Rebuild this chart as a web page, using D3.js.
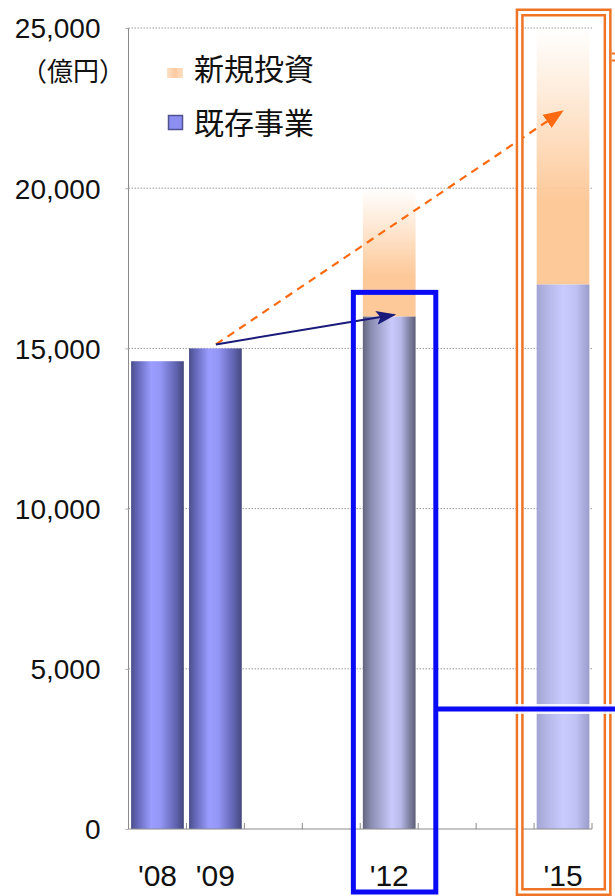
<!DOCTYPE html>
<html>
<head>
<meta charset="utf-8">
<script src="https://cdn.jsdelivr.net/npm/d3@7/dist/d3.min.js"></script>
<style>
  html, body { margin: 0; padding: 0; background: #fff; }
  svg { display: block; }
  .unit { font-feature-settings: "halt"; }
</style>
</head>
<body>
<svg id="chart" width="615" height="896"></svg>
<script>
// Fiscal years on the category axis (empty years keep the spacing)
const years = ["'08", "'09", "'10", "'11", "'12", "'13", "'14", "'15"];
const yearLabels = ["'08", "'09", "", "", "'12", "", "", "'15"];
// 既存事業 (existing business), 億円
const existing = [14600, 15000, null, null, 16000, null, null, 17000];
// 新規投資 (new investment), stacked on top of existing business
const newInvest = [null, null, null, null, 4000, null, null, 8000];
// Kind of bar: actual results vs. plan targets
const barKind = ["actual", "actual", null, null, "plan12", null, null, "plan15"];
const yTicks = [0, 5000, 10000, 15000, 20000, 25000];
const unitLabel = "（億円）";
const legendItems = ["新規投資", "既存事業"];
// Growth arrows: from '09 result to the targets
const arrowFrom = { year: "'09", value: 15000 };
const arrowExisting = { year: "'12", value: 16000 };
const arrowTotal = { year: "'15", value: 22400 };

const svg = d3.select("#chart");
const W = 615, H = 896;
const plotLeft = 128.5, plotRight = 592, plotTop = 28, plotBottom = 829;

const x = d3.scaleBand().domain(years).range([plotLeft, plotRight])
  .paddingInner(0.09).paddingOuter(0.045);
const y = d3.scaleLinear().domain([0, 25000]).range([plotBottom, plotTop]);

const defs = svg.append("defs");
function hGrad(id, stops) {
  const g = defs.append("linearGradient").attr("id", id)
    .attr("x1", "0").attr("x2", "1").attr("y1", "0").attr("y2", "0");
  stops.forEach(s => g.append("stop").attr("offset", s[0]).attr("stop-color", s[1]));
}
hGrad("g-actual", [[0, "#4c4f8a"], [0.12, "#6467b8"], [0.38, "#9b9dff"], [0.55, "#9597f6"], [0.85, "#6063b0"], [1, "#45487c"]]);
hGrad("g-plan12", [[0, "#62647e"], [0.15, "#8a8cb0"], [0.55, "#c9cafc"], [0.72, "#b8b9e8"], [0.9, "#7a7c9c"], [1, "#5e6078"]]);
hGrad("g-plan15", [[0, "#a2a4d4"], [0.2, "#b4b6e6"], [0.5, "#c9cbff"], [0.75, "#bfc1f4"], [1, "#9a9cca"]]);
const vg = defs.append("linearGradient").attr("id", "g-new")
  .attr("x1", "0").attr("x2", "0").attr("y1", "0").attr("y2", "1");
vg.append("stop").attr("offset", 0).attr("stop-color", "#fdc999").attr("stop-opacity", 0);
vg.append("stop").attr("offset", 0.25).attr("stop-color", "#fdc999").attr("stop-opacity", 0.35);
vg.append("stop").attr("offset", 0.68).attr("stop-color", "#fdc999").attr("stop-opacity", 1);
vg.append("stop").attr("offset", 1).attr("stop-color", "#fdc999").attr("stop-opacity", 1);
hGrad("g-legend-new", [[0, "#fde2c8"], [0.5, "#fcc9a0"], [1, "#fde0c4"]]);

defs.append("marker").attr("id", "m-navy")
  .attr("viewBox", "0 0 10 10").attr("refX", 9).attr("refY", 5)
  .attr("markerWidth", 20).attr("markerHeight", 14).attr("markerUnits", "userSpaceOnUse")
  .attr("orient", "auto").attr("preserveAspectRatio", "none")
  .append("path").attr("d", "M0,0 L10,5 L0,10 L2,5 Z").attr("fill", "#1a1a7a");
defs.append("marker").attr("id", "m-orange")
  .attr("viewBox", "0 0 10 10").attr("refX", 9).attr("refY", 5)
  .attr("markerWidth", 20).attr("markerHeight", 16).attr("markerUnits", "userSpaceOnUse")
  .attr("orient", "auto").attr("preserveAspectRatio", "none")
  .append("path").attr("d", "M0,0 L10,5 L0,10 Z").attr("fill", "#ff6a10");

// Dotted gridlines
svg.append("g").selectAll("line").data(yTicks.filter(d => d > 0)).join("line")
  .attr("x1", plotLeft).attr("x2", plotRight)
  .attr("y1", d => y(d)).attr("y2", d => y(d))
  .attr("stroke", "#9a9a9a").attr("stroke-width", 1).attr("stroke-dasharray", "1.5 1.5");

// Bars: existing business
const rows = years.map((yr, i) => ({ yr, ex: existing[i], nw: newInvest[i], kind: barKind[i] }));
svg.append("g").selectAll("rect").data(rows.filter(d => d.ex != null)).join("rect")
  .attr("x", d => x(d.yr)).attr("width", x.bandwidth())
  .attr("y", d => y(d.ex)).attr("height", d => y(0) - y(d.ex))
  .attr("fill", d => `url(#g-${d.kind})`);
// Bars: new investment on top
svg.append("g").selectAll("rect").data(rows.filter(d => d.nw != null)).join("rect")
  .attr("x", d => x(d.yr)).attr("width", x.bandwidth())
  .attr("y", d => y(d.ex + d.nw)).attr("height", d => y(d.ex) - y(d.ex + d.nw))
  .attr("fill", "url(#g-new)");

// Axes
const yAxis = d3.axisLeft(y).tickValues(yTicks).tickSize(3).tickFormat(d3.format(","));
const gy = svg.append("g").attr("transform", `translate(${plotLeft},0)`).call(yAxis);
gy.select(".domain").attr("stroke", "#8a8a8a").attr("d", `M0,${plotTop}V${plotBottom}`);
gy.selectAll(".tick line").attr("stroke", "#aaa");
gy.selectAll(".tick text").attr("x", -28).attr("dy", "0.35em")
  .attr("font-family", "'Liberation Sans', Arial, sans-serif").attr("font-size", 28).attr("fill", "#111");

const xAxis = d3.axisBottom(x).tickSize(0).tickFormat((d, i) => yearLabels[i]);
const gx = svg.append("g").attr("transform", `translate(0,${plotBottom})`).call(xAxis);
gx.select(".domain").attr("stroke", "#8a8a8a").attr("d", `M${plotLeft},0H${plotRight}`);
gx.selectAll(".tick text").attr("y", 57).attr("dy", 0)
  .attr("font-family", "'Liberation Sans', Arial, sans-serif").attr("font-size", 30).attr("fill", "#111");
// Category boundary ticks pointing into the plot
const bounds = years.map(d => x(d) - x.step() * x.paddingInner() / 2).slice(1).concat([plotRight]);
svg.append("g").selectAll("line").data(bounds).join("line")
  .attr("x1", d => d).attr("x2", d => d).attr("y1", plotBottom).attr("y2", plotBottom - 6)
  .attr("stroke", "#8a8a8a").attr("stroke-width", 1);

// Unit label
svg.append("text").attr("class", "unit").attr("x", 34).attr("y", 81)
  .attr("font-family", "'Noto Sans CJK JP', sans-serif").attr("font-size", 26).attr("fill", "#111")
  .text(unitLabel);

// Legend
const lg = svg.append("g").attr("font-family", "'Noto Sans CJK JP', sans-serif").attr("font-size", 30).attr("fill", "#111");
lg.append("rect").attr("x", 167).attr("y", 68).attr("width", 16).attr("height", 10).attr("fill", "url(#g-legend-new)");
lg.append("text").attr("x", 194).attr("y", 80).text(legendItems[0]);
lg.append("rect").attr("x", 168.5).attr("y", 115.5).attr("width", 14).attr("height", 14)
  .attr("fill", "#8c8ef2").attr("stroke", "#4f528f").attr("stroke-width", 1.5);
lg.append("text").attr("x", 194).attr("y", 134).text(legendItems[1]);

// Growth arrows
const cx = yr => x(yr) + x.bandwidth() / 2;
const sx = cx(arrowFrom.year) + 0.5, sy = y(arrowFrom.value) - 4;
svg.append("line")
  .attr("x1", sx).attr("y1", sy)
  .attr("x2", cx(arrowTotal.year) - 1).attr("y2", y(arrowTotal.value))
  .attr("stroke", "#ff6a10").attr("stroke-width", 2.2).attr("stroke-dasharray", "8 6")
  .attr("marker-end", "url(#m-orange)");
svg.append("line")
  .attr("x1", sx).attr("y1", sy)
  .attr("x2", cx(arrowExisting.year) + 5).attr("y2", y(arrowExisting.value) - 1.5)
  .attr("stroke", "#1a1a7a").attr("stroke-width", 2)
  .attr("marker-end", "url(#m-navy)");

// Highlight frame around the '12 target
const b12 = x("'12");
const bx0 = b12 - 9.5, bx1 = b12 + x.step() + 15;
const by0 = y(arrowExisting.value) - 24, by1 = 892;
// Highlight frame around the '15 target (double orange line)
const b15 = x("'15");
const ox0 = b15 - 17, ox1 = b15 + x.step() + 13, oy0 = 12.5, oy1 = 892;
svg.append("rect").attr("x", ox0).attr("y", oy0).attr("width", ox1 - ox0).attr("height", oy1 - oy0)
  .attr("fill", "none").attr("stroke", "#f07426").attr("stroke-width", 8);
svg.append("rect").attr("x", ox0).attr("y", oy0).attr("width", ox1 - ox0).attr("height", oy1 - oy0)
  .attr("fill", "none").attr("stroke", "#fff").attr("stroke-width", 3);
// Connector stub leaving the orange frame
[53.5, 60.5].forEach(yy => {
  svg.append("line").attr("x1", ox1 + 4).attr("x2", W).attr("y1", yy).attr("y2", yy)
    .attr("stroke", "#f07426").attr("stroke-width", 2);
});

svg.append("rect").attr("x", bx0).attr("y", by0).attr("width", bx1 - bx0).attr("height", by1 - by0)
  .attr("fill", "none").attr("stroke", "#0a0af5").attr("stroke-width", 5);
// Connector leaving the blue frame to the right
const cy = 709;
svg.append("line").attr("x1", bx1 + 3).attr("x2", W).attr("y1", cy).attr("y2", cy)
  .attr("stroke", "#fff").attr("stroke-opacity", 0.85).attr("stroke-width", 10);
svg.append("line").attr("x1", bx1).attr("x2", W).attr("y1", cy).attr("y2", cy)
  .attr("stroke", "#0a0af5").attr("stroke-width", 5);
</script>
</body>
</html>
